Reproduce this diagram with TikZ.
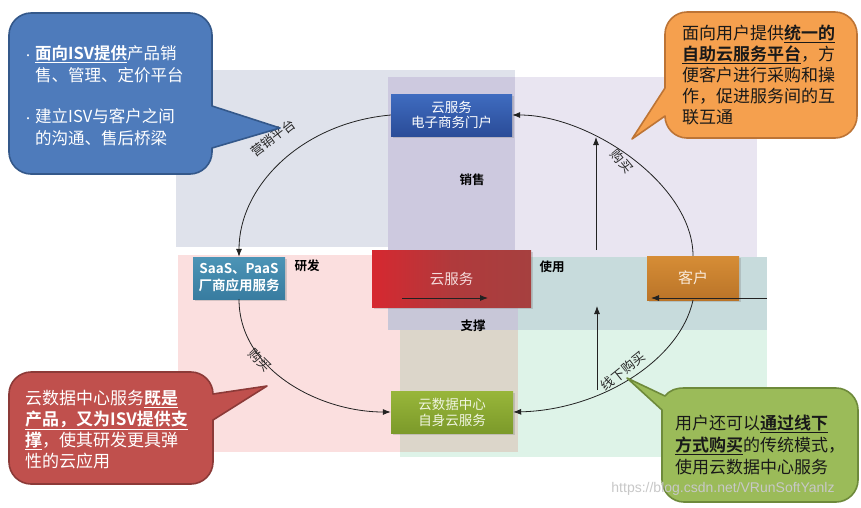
\documentclass[tikz,border=0pt]{standalone}
\usepackage{fontspec}
\setmainfont{Noto Sans CJK SC}[BoldFont={Noto Sans CJK SC Bold}]
\newfontfamily\wmfont{Liberation Sans}
\usetikzlibrary{arrows.meta,shadows}
\definecolor{bgTop}{HTML}{DFE2EB}
\definecolor{bgPurple}{HTML}{CDC9DF}
\definecolor{bgLav}{HTML}{E9E5F1}
\definecolor{bgPink}{HTML}{FBDFDF}
\definecolor{bgMint}{HTML}{DEF3E8}
\definecolor{bgTeal}{HTML}{C7DBDC}
\definecolor{bgOver}{HTML}{C8C7D8}
\definecolor{bgTan}{HTML}{DCD6CA}
\definecolor{cbBlue}{HTML}{4E7BBB}
\definecolor{cbBlueD}{HTML}{34588A}
\definecolor{cbOrange}{HTML}{F5A04E}
\definecolor{cbOrangeD}{HTML}{BD7435}
\definecolor{cbRed}{HTML}{C0504D}
\definecolor{cbRedD}{HTML}{8C3A38}
\definecolor{cbGreen}{HTML}{9BBB59}
\definecolor{cbGreenD}{HTML}{6E8A3B}
\definecolor{lineC}{HTML}{222222}
\begin{document}
\begin{tikzpicture}[x=1pt,y=-1pt,
  region/.style={draw=none},
  box/.style={draw=none,text=white,inner sep=0pt,align=center,
     drop shadow={shadow xshift=1.5pt,shadow yshift=-1.5pt,opacity=.3}},
  conn/.style={draw=lineC,line width=0.8pt,-{Latex[length=8pt,width=6pt]}},
  seclbl/.style={font=\bfseries\fontsize{12.5}{14}\selectfont,text=black,inner sep=0pt},
  arclbl/.style={font=\fontsize{13}{14}\selectfont,text=black!85,inner sep=0pt},
  ctext/.style={inner sep=0pt,anchor=north west,align=left},
  callout/.style={line width=1.6pt,line join=round}
]
\useasboundingbox (0,0) rectangle (861,507);
\fill[white] (0,0) rectangle (861,507);
% background regions
\fill[bgTop] (176,70) rectangle (515,247);
\fill[bgLav] (515,77) rectangle (757,257);
\fill[bgPurple] (388,77) rectangle (515,257);
\fill[bgPink] (178,255) rectangle (518,452);
\fill[bgMint] (400,257) rectangle (767,457);
\fill[bgTeal] (388,257) rectangle (767,330);
\fill[bgOver] (388,257) rectangle (518,330);
\fill[bgTan] (400,330) rectangle (518,452);

% section labels
\node[seclbl] (lsell) at (472,180) {销售};
\node[seclbl] (ldev) at (307,266) {研发};
\node[seclbl] (luse) at (552,267) {使用};
\node[seclbl] (lsup) at (473,326) {支撑};

% boxes
\node[box,minimum width=121pt,minimum height=42pt,top color=blue!10!black!0!white!0!blue!0!cyan!0!white!0!black!0!white!0!white,
      top color={rgb,255:red,63;green,108;blue,192},bottom color={rgb,255:red,42;green,76;blue,152},
      font=\fontsize{13.5}{15}\selectfont] (portal) at (451.5,115) {云服务\\电子商务门户};
\node[box,minimum width=92pt,minimum height=42pt,
      top color={rgb,255:red,76;green,148;blue,182},bottom color={rgb,255:red,56;green,124;blue,160},
      font=\bfseries\fontsize{13.5}{17}\selectfont] (saas) at (239,278) {SaaS、PaaS\\厂商应用服务};
\node[box,minimum width=159pt,minimum height=57pt,
      left color={rgb,255:red,214;green,40;blue,48},right color={rgb,255:red,166;green,64;blue,63},
      middle color={rgb,255:red,176;green,58;blue,60},
      text={rgb,255:red,245;green,220;blue,220},
      font=\fontsize{14.5}{16}\selectfont] (cloud) at (451.5,278.5) {云服务};
\node[box,minimum width=92pt,minimum height=44pt,
      top color={rgb,255:red,214;green,141;blue,54},bottom color={rgb,255:red,186;green,116;blue,40},
      text={rgb,255:red,250;green,235;blue,220},
      font=\fontsize{15}{16}\selectfont] (cust) at (693,278) {客户};
\node[box,minimum width=122pt,minimum height=42pt,
      top color={rgb,255:red,152;green,182;blue,58},bottom color={rgb,255:red,124;green,154;blue,42},
      text={rgb,255:red,240;green,245;blue,225},
      font=\fontsize{13.5}{16}\selectfont] (dc) at (452,412) {云数据中心\\自身云服务};

% free ends
\coordinate (upAs) at (596,250);
\coordinate (upAe) at (596,137);
\coordinate (upBs) at (597,390);
\coordinate (upBe) at (597,306);
\coordinate (redS) at (402,298);
\coordinate (redE) at (488,298);
\coordinate (rightS) at (767,298);
\coordinate (rightE) at (651,298);

% connectors
\draw[conn] (portal.west) .. controls +(-90,8) and +(0,-70) .. (saas.north);
\draw[conn] (cust.north) .. controls +(0,-71) and +(78,0) .. (portal.east);
\draw[conn] (saas.south) .. controls +(0,71) and +(-71,0) .. (dc.west);
\draw[conn] (cust.south) .. controls +(-13,60) and +(87,-2) .. (dc.east);
\draw[conn] (upAs) -- (upAe);
\draw[conn] (upBs) -- (upBe);
\draw[conn] (redS) -- (redE);
\draw[conn] (rightS) -- (rightE);

% connector labels
\node[arclbl,rotate=37] (lmkt) at (273,138) {营销平台};
\node[arclbl,rotate=-50] (lbuy1) at (622,161) {购买};
\node[arclbl,rotate=-45] (lbuy2) at (260,360) {购买};
\node[arclbl,rotate=39] (loff) at (623,371) {线下购买};

% callouts
\filldraw[callout,fill=cbBlue,draw=cbBlueD]
 (31,13) -- (190,13) .. controls (202,13) and (212,23) .. (212,35) -- (212,106) -- (280,128) -- (212,148) -- (212,152)
 .. controls (212,164) and (202,174) .. (190,174) -- (31,174) .. controls (19,174) and (9,164) .. (9,152)
 -- (9,35) .. controls (9,23) and (19,13) .. (31,13) -- cycle;
\filldraw[callout,fill=cbOrange,draw=cbOrangeD]
 (687,12) -- (835,12) .. controls (847,12) and (857,22) .. (857,34) -- (857,116) .. controls (857,128) and (847,138) .. (835,138)
 -- (687,138) .. controls (675,138) and (665,128) .. (665,116) -- (632,139) -- (665,88) -- (665,34)
 .. controls (665,22) and (675,12) .. (687,12) -- cycle;
\filldraw[callout,fill=cbRed,draw=cbRedD]
 (31,372) -- (191,372) .. controls (203,372) and (213,382) .. (213,394) -- (267,386) -- (213,420) -- (213,462)
 .. controls (213,474) and (203,484) .. (191,484) -- (31,484) .. controls (19,484) and (9,474) .. (9,462)
 -- (9,394) .. controls (9,382) and (19,372) .. (31,372) -- cycle;
\filldraw[callout,fill=cbGreen,draw=cbGreenD]
 (684,388) -- (836,388) .. controls (848,388) and (858,398) .. (858,410) -- (858,480) .. controls (858,492) and (848,502) .. (836,502)
 -- (684,502) .. controls (672,502) and (662,492) .. (662,480) -- (662,410) -- (627,378) -- (665,396)
 .. controls (670,390) and (676,388) .. (684,388) -- cycle;

\node[ctext,text=white,font=\fontsize{16.5}{22.5}\selectfont] (tblue) at (35,45)
 {\llap{{\fontsize{10}{10}\selectfont •}\hspace{2pt}}\textbf{\underline{面向ISV提供}}产品销\\
  售、管理、定价平台\\[18pt]
  \llap{{\fontsize{10}{10}\selectfont •}\hspace{2pt}}建立ISV与客户之间\\
  的沟通、售后桥梁};
\node[ctext,text=black!90,font=\fontsize{17}{21}\selectfont] (torange) at (682,24.5)
 {面向用户提供\textbf{\underline{统一的}}\\
  \textbf{\underline{自助云服务平台}}，方\\
  便客户进行采购和操\\
  作，促进服务间的互\\
  联互通};
\node[ctext,text=white,font=\fontsize{17}{21.3}\selectfont] (tred) at (25,389.5)
 {云数据中心服务\textbf{\underline{既是}}\\
  \textbf{\underline{产品，又为ISV提供支}}\\
  \textbf{\underline{撑}}，使其研发更具弹\\
  性的云应用};
\node[ctext,text=black!90,font=\fontsize{17}{22}\selectfont] (tgreen) at (675,414.5)
 {用户还可以\textbf{\underline{通过线下}}\\
  \textbf{\underline{方式购买}}的传统模式，\\
  使用云数据中心服务};

% watermark
\node[inner sep=0pt,text={rgb,255:red,200;green,200;blue,200},font=\wmfont\fontsize{14}{16}\selectfont] (wm) at (723,489) {https://blog.csdn.net/VRunSoftYanlz};
\end{tikzpicture}
\end{document}
